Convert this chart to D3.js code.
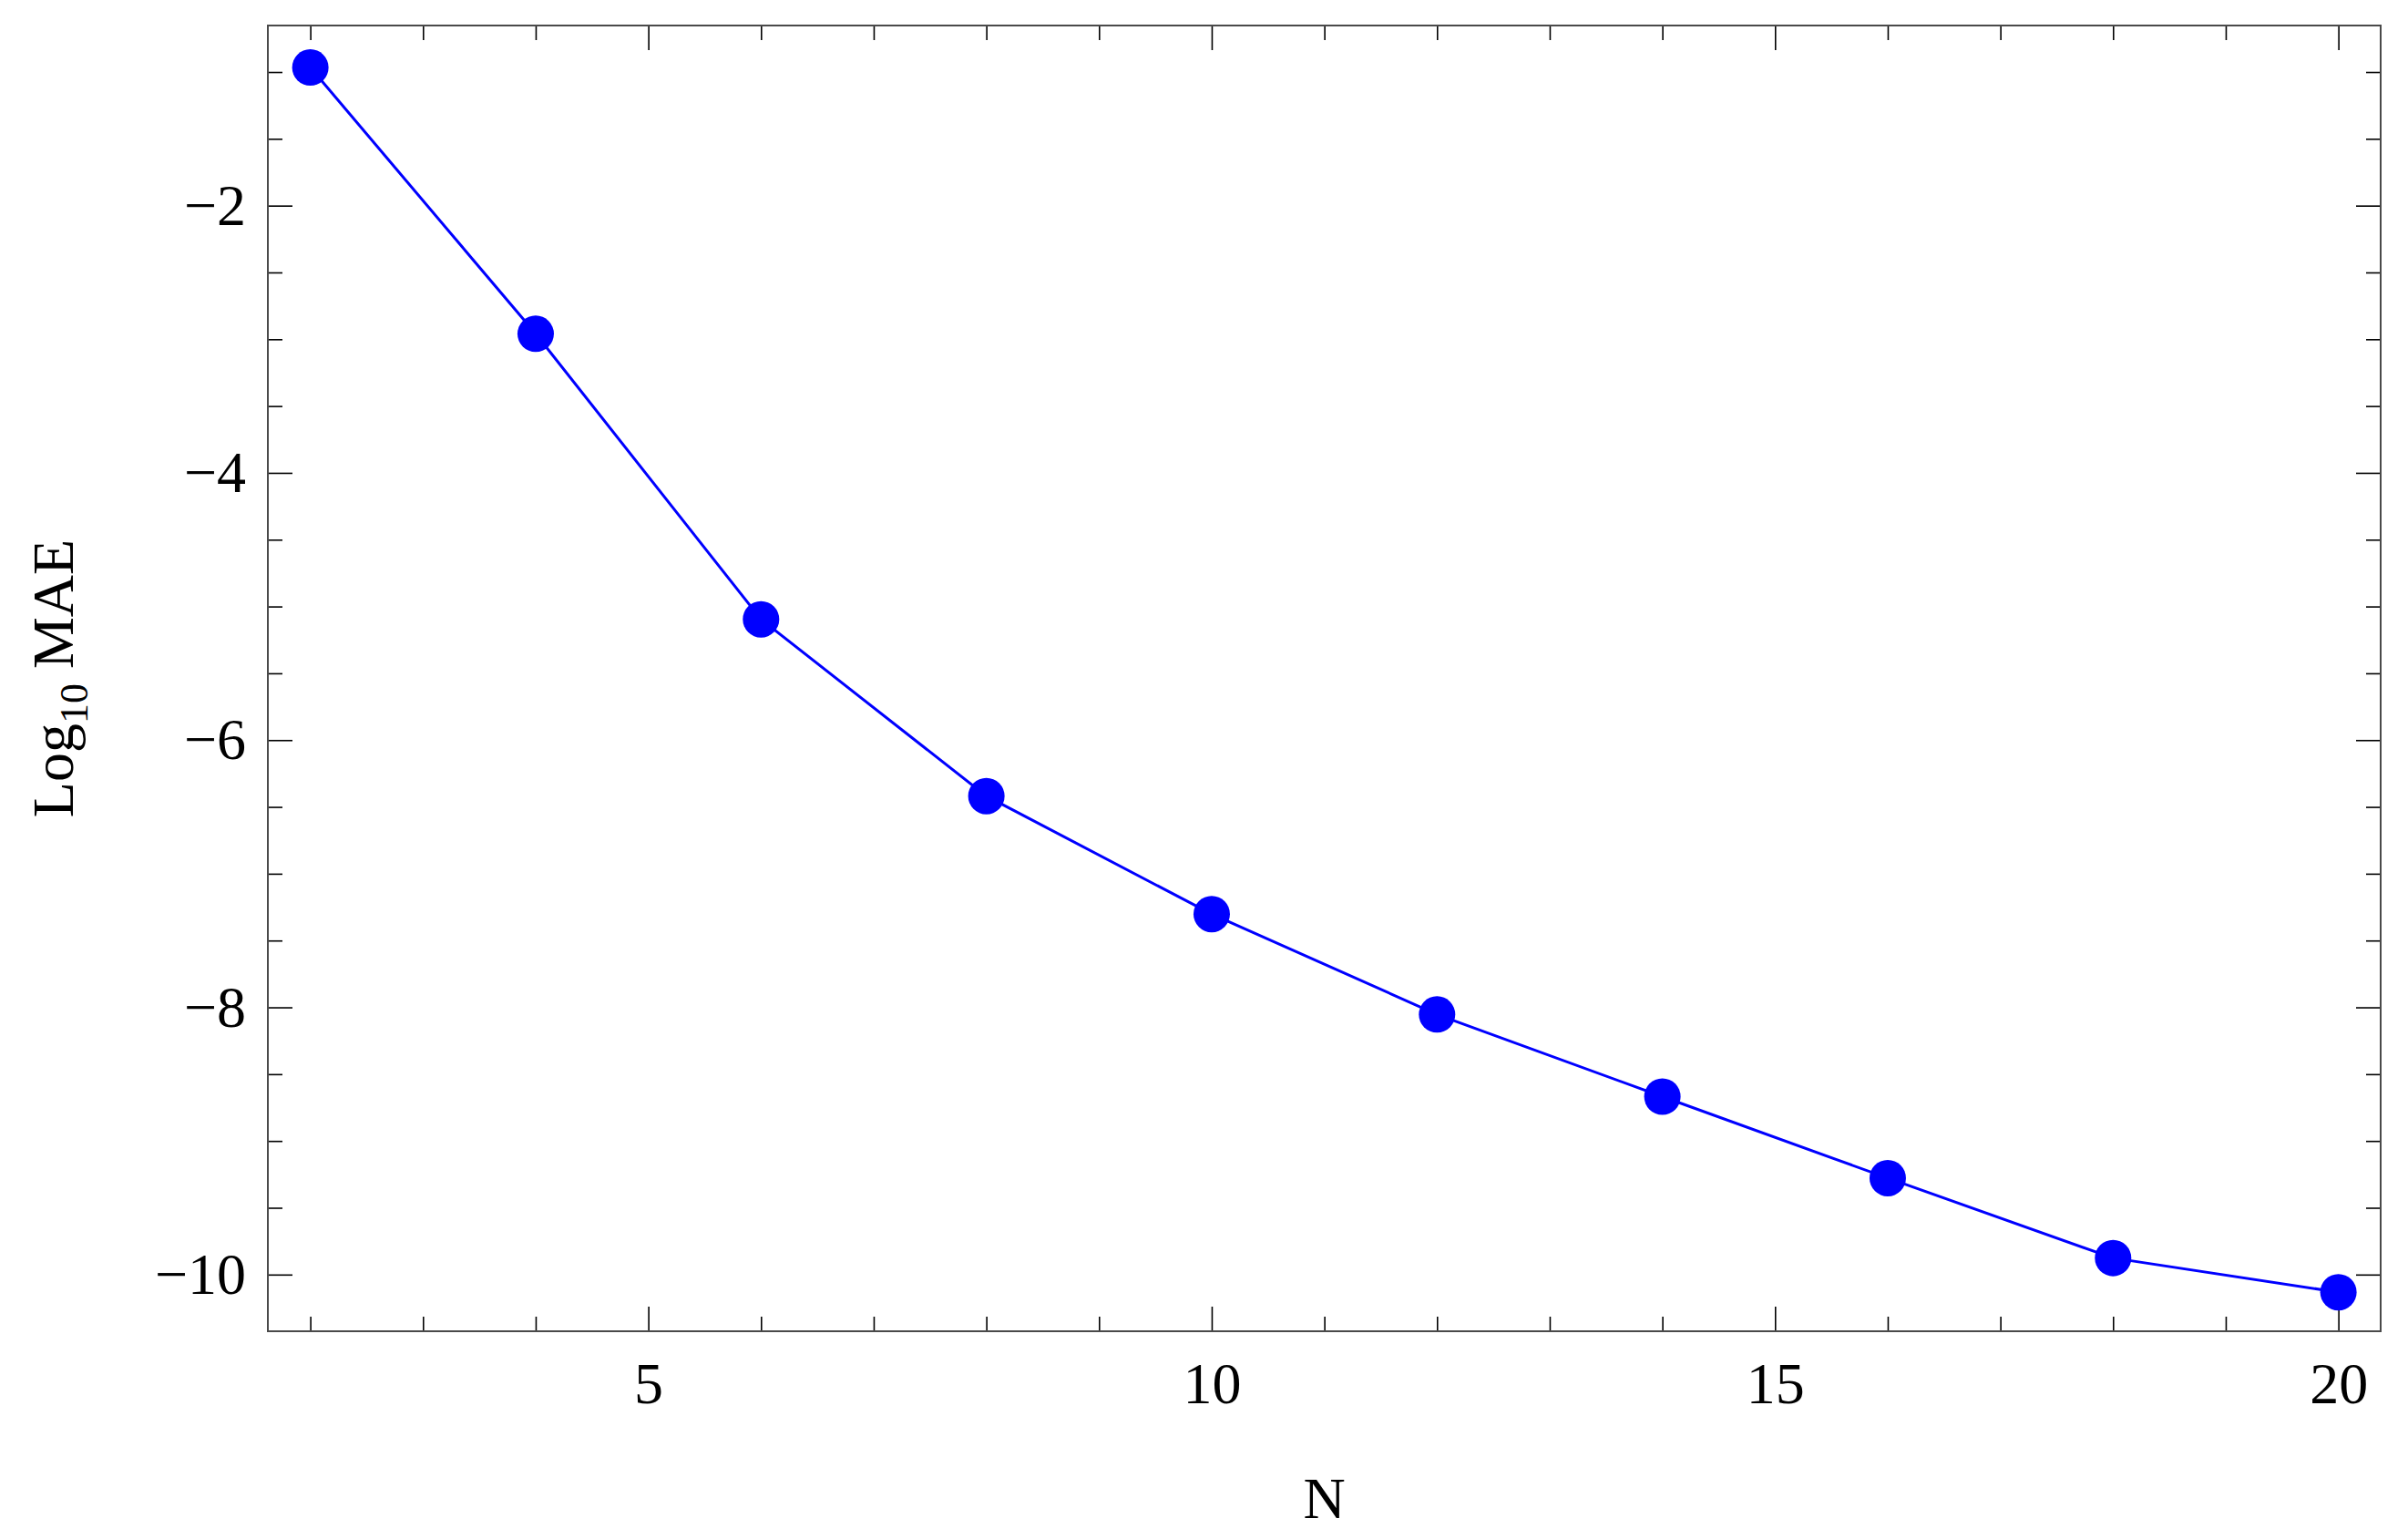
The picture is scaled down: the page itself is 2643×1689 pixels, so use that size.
<!DOCTYPE html>
<html>
<head>
<meta charset="utf-8">
<script src="https://cdn.jsdelivr.net/npm/d3@7"></script>
<style>
  body { margin: 0; background: #fff; }
  text { font-family: "Liberation Serif", "DejaVu Serif", serif; }
</style>
</head>
<body>
<script>
var w = 2643, h = 1689;

// data
var nValues = [2, 4, 6, 8, 10, 12, 14, 16, 18, 20];
var logMAE = [-0.966, -2.959, -5.096, -6.419, -7.302, -8.053, -8.668, -9.278, -9.876, -10.132];

var xMajor = [5, 10, 15, 20];
var xMinor = d3.range(2, 21).filter(function(v) { return v % 5 != 0; });
var yMajor = [-10, -8, -6, -4, -2];
var yMinor = [-9, -7, -5, -3, -1].concat([-9.5, -8.5, -7.5, -6.5, -5.5, -4.5, -3.5, -2.5, -1.5]);

// plot frame (window.top is reserved, so use other names)
var frameL = 294, frameR = 2613, frameT = 28, frameB = 1461;
var fontSize = 64;

var svg = d3.select("body").append("svg")
            .attr("width", w)
            .attr("height", h);

var x = d3.scaleLinear().domain([1.623, 20.375]).range([frameL, frameR]);
var y = d3.scaleLinear().domain([-10.424, -0.652]).range([frameB, frameT]);

function minusFmt(d) { return String(d).replace("-", "\u2212"); }

function styleAxis(g) {
  g.select(".domain").remove();
  g.selectAll(".tick line").attr("stroke", "#000").attr("stroke-width", 1.6);
  g.selectAll(".tick text").attr("fill", "#000").style("font-size", fontSize + "px");
}

// bottom
svg.append("g").attr("transform", "translate(0," + frameB + ")")
   .call(d3.axisBottom(x).tickValues(xMajor).tickSize(-27).tickPadding(34).tickFormat(minusFmt))
   .call(styleAxis);
svg.append("g").attr("transform", "translate(0," + frameB + ")")
   .call(d3.axisBottom(x).tickValues(xMinor).tickSize(-16).tickFormat(""))
   .call(styleAxis);
// top
svg.append("g").attr("transform", "translate(0," + frameT + ")")
   .call(d3.axisTop(x).tickValues(xMajor).tickSize(-27).tickFormat(""))
   .call(styleAxis);
svg.append("g").attr("transform", "translate(0," + frameT + ")")
   .call(d3.axisTop(x).tickValues(xMinor).tickSize(-16).tickFormat(""))
   .call(styleAxis);
// left
svg.append("g").attr("transform", "translate(" + frameL + ",0)")
   .call(d3.axisLeft(y).tickValues(yMajor).tickSize(-27).tickPadding(24).tickFormat(minusFmt))
   .call(styleAxis);
svg.append("g").attr("transform", "translate(" + frameL + ",0)")
   .call(d3.axisLeft(y).tickValues(yMinor).tickSize(-16).tickFormat(""))
   .call(styleAxis);
// right
svg.append("g").attr("transform", "translate(" + frameR + ",0)")
   .call(d3.axisRight(y).tickValues(yMajor).tickSize(-27).tickFormat(""))
   .call(styleAxis);
svg.append("g").attr("transform", "translate(" + frameR + ",0)")
   .call(d3.axisRight(y).tickValues(yMinor).tickSize(-16).tickFormat(""))
   .call(styleAxis);

// frame
svg.append("rect")
   .attr("x", frameL).attr("y", frameT)
   .attr("width", frameR - frameL).attr("height", frameB - frameT)
   .attr("fill", "none").attr("stroke", "#4a4a4a").attr("stroke-width", 2);

// series
var line = d3.line()
             .x(function(d, i) { return x(nValues[i]); })
             .y(function(d) { return y(d); });
svg.append("path")
   .datum(logMAE)
   .attr("d", line)
   .attr("fill", "none")
   .attr("stroke", "#0000ff")
   .attr("stroke-width", 3);

svg.selectAll(".pt")
   .data(logMAE)
   .enter()
   .append("circle")
   .attr("class", "pt")
   .attr("cx", function(d, i) { return x(nValues[i]); })
   .attr("cy", function(d) { return y(d); })
   .attr("r", 20)
   .attr("fill", "#0000ff");

// axis titles
svg.append("text")
   .attr("x", (frameL + frameR) / 2)
   .attr("y", 1666)
   .attr("text-anchor", "middle")
   .style("font-size", fontSize + "px")
   .text("N");

var yt = svg.append("text")
   .attr("transform", "translate(80," + ((frameT + frameB) / 2) + ") rotate(-90)")
   .attr("text-anchor", "middle")
   .style("font-size", fontSize + "px");
yt.append("tspan").text("Log");
yt.append("tspan").attr("dy", 16).style("font-size", "44px").text("10");
yt.append("tspan").attr("dy", -16).text(" MAE");
</script>
</body>
</html>
